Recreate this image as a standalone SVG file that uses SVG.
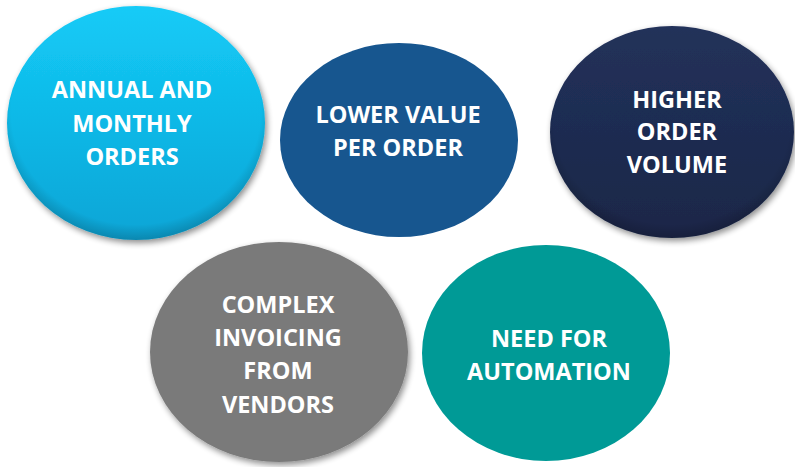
<svg xmlns="http://www.w3.org/2000/svg" width="795" height="467" viewBox="0 0 795 467">
<style>
text{font-family:"Open Sans","Liberation Sans",sans-serif;font-weight:bold;font-size:23.5px;fill:#ffffff;text-anchor:middle}
</style>
<defs>
<filter id="sh" x="-10%" y="-10%" width="125%" height="130%">
<feGaussianBlur in="SourceAlpha" stdDeviation="3"/>
<feOffset dx="2" dy="3" result="b"/>
<feComponentTransfer><feFuncA type="linear" slope="0.45"/></feComponentTransfer>
<feMerge><feMergeNode/><feMergeNode in="SourceGraphic"/></feMerge>
</filter>
<linearGradient id="g1" x1="0" y1="0" x2="0" y2="1"><stop offset="0" stop-color="#14cbf7"/><stop offset="1" stop-color="#0aa5d6"/></linearGradient>
<linearGradient id="g3" x1="0" y1="0" x2="0" y2="1"><stop offset="0" stop-color="#22315a"/><stop offset="1" stop-color="#1a2748"/></linearGradient>
<radialGradient id="bev" cx="0.5" cy="0.45" r="0.55">
<stop offset="0.88" stop-color="#000" stop-opacity="0"/>
<stop offset="1" stop-color="#000" stop-opacity="0.18"/>
</radialGradient>
</defs>
<g id="n1">
<ellipse cx="136" cy="123" rx="129" ry="117" fill="url(#g1)" filter="url(#sh)"/>
<ellipse cx="136" cy="123" rx="129" ry="117" fill="url(#bev)"/>
<text x="132" y="98">ANNUAL AND</text>
<text x="132" y="132">MONTHLY</text>
<text x="132" y="165">ORDERS</text>
</g>
<g id="n2">
<ellipse cx="399" cy="140" rx="119" ry="97" fill="#17568f"/>
<text x="398" y="123">LOWER VALUE</text>
<text x="398" y="156">PER ORDER</text>
</g>
<g id="n3">
<ellipse cx="672" cy="132" rx="122" ry="106" fill="url(#g3)" filter="url(#sh)"/>
<ellipse cx="672" cy="132" rx="122" ry="106" fill="url(#bev)"/>
<text x="677" y="108">HIGHER</text>
<text x="677" y="140">ORDER</text>
<text x="677" y="173">VOLUME</text>
</g>
<g id="n4">
<ellipse cx="279" cy="352" rx="129" ry="110" fill="#7a7a7a" filter="url(#sh)"/>
<text x="278" y="313">COMPLEX</text>
<text x="278" y="346">INVOICING</text>
<text x="278" y="379">FROM</text>
<text x="278" y="413">VENDORS</text>
</g>
<g id="n5">
<ellipse cx="546" cy="353" rx="124" ry="108" fill="#009a96"/>
<text x="549" y="347">NEED FOR</text>
<text x="549" y="380">AUTOMATION</text>
</g>
<g id="connectors"/>
</svg>
